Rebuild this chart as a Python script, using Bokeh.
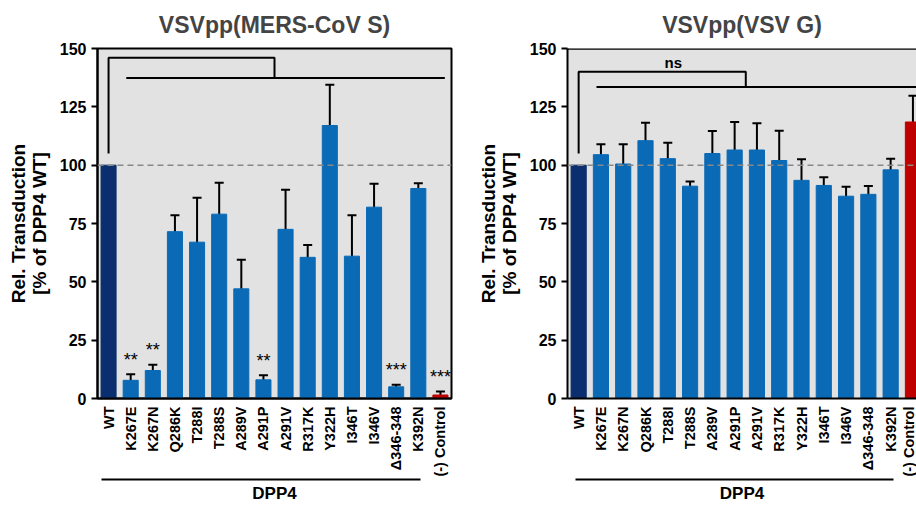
import math
from bokeh.plotting import figure
from bokeh.models import (Range1d, FixedTicker, LinearAxis, Span, Whisker, TeeHead,
                          ColumnDataSource)
from bokeh.layouts import row
from bokeh.embed import file_html
from bokeh.resources import INLINE
from bokeh.core.properties import value

# ---------------- data ----------------
categories = ["WT", "K267E", "K267N", "Q286K", "T288I", "T288S", "A289V", "A291P",
              "A291V", "R317K", "Y322H", "I346T", "I346V", "\u0394346-348", "K392N",
              "(-) Control"]
mers_values = [100, 7.8, 12, 71.5, 67, 79, 47, 8, 72.5, 60.5, 117, 61, 82, 5, 90, 1.5]
mers_errors = [0, 2.6, 2.5, 7, 19, 13.5, 12.5, 2, 17, 5.3, 17.5, 17.5, 10, 0.9, 2.3, 1.5]
mers_stars = ["", "**", "**", "", "", "", "", "**", "", "", "", "", "", "***", "", "***"]
vsvg_values = [100, 104.5, 100.5, 110.5, 102.8, 91, 105, 106.5, 106.5, 102, 93.5, 91.3,
               86.7, 87.5, 98, 118.5]
vsvg_errors = [0, 4.5, 8.5, 7.7, 6.8, 2, 9.6, 12, 11.5, 12.8, 9, 3.5, 4, 3.6, 4.7, 11.2]
y_ticks = [0, 25, 50, 75, 100, 125, 150]
group_label = "DPP4"

FONT = "Liberation Sans"
NAVY = "#0b2f6e"
BLUE = "#0a6ab6"
RED = "#bf0000"


def bar_colors(cats):
    out = []
    for c in cats:
        if c == "WT":
            out.append(NAVY)
        elif c.startswith("(-)"):
            out.append(RED)
        else:
            out.append(BLUE)
    return out


def make_panel(title, vals, errs, width, x_end, border_left, border_right,
               group_bounds, outline=True, stars=None, ns=False, bracket_right=15.2):
    xs = list(range(len(categories)))
    p = figure(width=width, height=505, output_backend="svg", toolbar_location=None,
               x_range=Range1d(-0.5, x_end), y_range=Range1d(0, 150),
               min_border_left=border_left, min_border_right=border_right,
               min_border_top=48, min_border_bottom=0)
    p.title.text = title
    p.title.align = "center"
    p.title.vertical_align = "top"
    p.title.text_font = FONT
    p.title.text_font_size = "23px"
    p.title.text_font_style = "bold"
    p.title.standoff = 18

    p.background_fill_color = "#e2e2e2"
    p.border_fill_color = "white"
    if outline:
        p.outline_line_color = "black"
        p.outline_line_width = 2
    else:
        p.outline_line_color = None
        p.add_layout(Span(location=150, dimension="width", line_color="black",
                          line_width=2.5))
    p.xgrid.grid_line_color = None
    p.ygrid.grid_line_color = None

    # y axis
    ya = p.yaxis[0]
    ya.ticker = FixedTicker(ticks=y_ticks)
    ya.minor_tick_line_color = None
    ya.major_tick_out = 6
    ya.major_tick_in = 0
    ya.major_tick_line_width = 2
    ya.axis_line_width = 2
    ya.major_label_text_font = FONT
    ya.major_label_text_font_size = "16px"
    ya.major_label_text_font_style = "bold"
    ya.major_label_text_color = "black"
    ya.axis_label = "Rel. Transduction\n[% of DPP4 WT]"
    ya.axis_label_text_font = FONT
    ya.axis_label_text_font_size = "19px"
    ya.axis_label_text_font_style = "bold"
    ya.axis_label_text_color = "black"
    ya.axis_label_text_line_height = 1.0
    ya.axis_label_standoff = 7

    # x axis
    xa = p.xaxis[0]
    xa.ticker = FixedTicker(ticks=xs)
    xa.major_label_overrides = {i: c for i, c in enumerate(categories)}
    xa.major_label_orientation = math.pi / 2
    xa.major_label_text_font = FONT
    xa.major_label_text_font_size = "14.5px"
    xa.major_label_text_font_style = "bold"
    xa.major_label_text_color = "black"
    xa.major_label_standoff = 2
    xa.major_tick_line_color = None
    xa.minor_tick_line_color = None
    xa.axis_line_width = 2

    # group axis (DPP4)
    ga = LinearAxis(ticker=FixedTicker(ticks=[]), bounds=group_bounds,
                    axis_line_width=2, major_tick_line_color=None,
                    minor_tick_line_color=None, axis_label=group_label,
                    axis_label_text_font=FONT, axis_label_text_font_size="17px",
                    axis_label_text_font_style="bold", axis_label_text_color="black",
                    axis_label_standoff=4)
    p.add_layout(ga, "below")

    # reference line
    p.add_layout(Span(location=100, dimension="width", line_color="#888888",
                      line_dash="6 4", line_width=1.5))

    # bars
    src = ColumnDataSource(dict(x=xs, top=vals, color=bar_colors(categories)))
    p.vbar(x="x", top="top", width=0.68, color="color", source=src)

    # error bars
    ex = [x for x, e in zip(xs, errs) if e > 0]
    eu = [v + e for v, e in zip(vals, errs) if e > 0]
    el = [max(v - e, 0) for v, e in zip(vals, errs) if e > 0]
    esrc = ColumnDataSource(dict(x=ex, upper=eu, lower=el))
    p.add_layout(Whisker(base="x", upper="upper", lower="lower", source=esrc,
                         line_width=2, line_color="black",
                         upper_head=TeeHead(size=9, line_width=2, line_color="black"),
                         lower_head=TeeHead(size=9, line_width=2, line_color="black")))

    # significance stars
    if stars:
        sx = [x for x, s in zip(xs, stars) if s]
        sy = [v + e + 2.0 for v, e, s in zip(vals, errs, stars) if s]
        st = [s for s in stars if s]
        p.text(x=sx, y=sy, text=st, text_align="center", text_baseline="bottom",
               text_font=value(FONT), text_font_size="18px", text_color="black")

    # brackets: WT vs all mutants
    wt = 0
    mid = (len(categories) - 1) / 2
    top_y = 140 if ns else 146
    low_y = 133.5 if ns else 137.4
    p.line(x=[wt, wt, mid, mid], y=[105, top_y, top_y, low_y],
           line_color="black", line_width=2)
    p.line(x=[0.8, bracket_right], y=[low_y, low_y],
           line_color="black", line_width=2)
    if ns:
        p.text(x=[4.25], y=[143.8], text=["ns"], text_align="center",
               text_baseline="middle", text_font=value(FONT), text_font_size="15px",
               text_font_style="bold", text_color="black")
    return p


p1 = make_panel("VSVpp(MERS-CoV S)", mers_values, mers_errors, width=460, x_end=15.5,
                border_left=97, border_right=9, group_bounds=(-0.32, 14.1),
                stars=mers_stars)
p2 = make_panel("VSVpp(VSV G)", vsvg_values, vsvg_errors, width=456, x_end=15.16,
                border_left=107, border_right=0, group_bounds=(-0.13, 14.13),
                outline=False, ns=True, bracket_right=16)

layout = row(p1, p2)
open("out.html", "w").write(file_html(layout, INLINE))
